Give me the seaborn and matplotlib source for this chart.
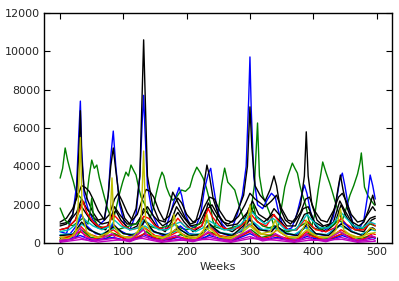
import matplotlib
matplotlib.use("Agg")
import matplotlib.pyplot as plt
import seaborn as sns
import pandas as pd

# ---- data (week, value) ----
wk_G1 = [0,4,8,12,17,21,25,29,33,38,42,46,50,54,58,62,66,70,75,79,84,89,94,99,104,108,112,116,120,124,128,132,137,142,147,152,157,161,164,168,173,178,184,188,192,198,205,210,216,221,226,231,237,241,245,250,255,260,265,270,276,280,284,290,296,302,307,312,315,320,326,332,338,343,348,352,355,360,367,371,375,379,382,388,393,398,403,408,412,415,420,426,430,434,440,446,452,458,464,470,474,476,478,481,486,492,497]
G1 = [3390,3900,4960,4300,3650,3200,2660,2500,2350,2000,2400,3500,4330,3900,4070,3400,2900,2400,1800,1460,1200,1900,2600,3200,3700,3500,4070,3800,3550,2900,2400,2140,1800,1300,1800,2600,3300,3700,3500,2920,2500,2240,2400,2600,2770,2700,2920,3500,3960,3700,3390,2900,2140,1200,900,1600,3000,3910,3180,3000,2770,2300,1830,1300,1000,1800,3000,6260,3500,2500,2000,1500,900,700,1500,2300,2920,3500,4170,3900,3650,3000,2610,2000,1200,900,1600,2800,3600,4230,3700,3130,2700,2240,1600,1200,1800,2500,3000,3600,4200,4700,4000,2920,2500,2200,1980]

wk_B1 = [0,10,20,26,30,32,34,38,44,52,60,70,76,80,84,88,94,102,110,120,126,130,132,134,138,146,156,166,174,180,186,188,192,198,206,214,222,228,234,238,242,248,256,264,272,280,288,294,298,300,302,306,312,320,328,334,340,344,350,358,366,374,380,386,390,396,404,414,424,432,438,442,446,450,456,464,472,480,486,490,494,498]
B1 = [600,500,1500,3000,6000,7400,5000,2500,1800,1200,900,1200,2500,4500,5840,4000,2000,1000,700,1500,3500,6500,7700,6000,3000,1500,800,700,1500,2200,2700,2900,2500,1500,900,800,1500,2800,3600,3900,3000,1800,1000,700,800,1500,2500,4000,7500,9700,7000,3500,2000,1800,2300,2600,2400,1800,1100,700,800,1500,2300,3030,2600,1600,900,600,800,1400,2500,3300,3650,3000,1800,900,700,1200,2500,3550,3000,2300]

wk_K1 = [0,10,20,26,30,32,34,38,44,52,60,70,76,80,84,88,94,102,110,120,126,129,132,135,138,146,156,166,172,178,182,188,198,206,214,222,228,232,236,242,250,258,266,274,282,290,296,300,303,308,316,324,332,338,342,348,356,364,372,380,386,389,392,398,406,416,426,434,440,443,447,454,462,472,480,488,494,498]
K1 = [900,1000,1500,2500,5000,6900,4500,2800,2200,1600,1200,1300,2500,4000,4960,3800,2200,1300,1000,1800,3500,7000,10590,7000,3500,2000,1200,1100,1800,2660,2400,2000,1300,1000,1100,2000,3200,4070,3500,2300,1500,1100,1000,1200,1800,2500,4000,7100,5000,3000,2500,2200,2800,3500,3000,1800,1200,1000,1300,2000,3500,5800,3500,2000,1200,900,1000,1800,3000,3550,2800,1800,1100,900,1100,1800,2500,2000]

wk_K2 = [0,10,20,28,34,40,46,52,60,70,78,86,92,98,106,114,122,130,136,142,148,156,164,172,180,186,192,200,210,220,228,236,244,252,262,272,282,292,300,308,316,324,334,342,350,360,370,380,388,394,402,412,422,432,440,446,452,460,470,480,488,494,498]
K2 = [1100,1300,1800,2500,3000,2900,2700,2300,1700,1200,1500,2300,2600,2200,1600,1200,1500,2300,2800,2700,2400,1700,1200,1400,2000,2350,2100,1500,1100,1300,1900,2400,2300,1700,1200,1100,1400,2000,2600,2300,2100,1900,2200,2500,1800,1200,1100,1600,2300,2400,1700,1200,1100,1700,2400,2600,2200,1500,1100,1200,1600,1900,1700]

wk_K3 = [0,12,24,32,38,48,60,72,82,88,96,110,122,132,140,152,166,178,186,196,210,224,234,244,258,272,288,300,310,322,336,346,360,374,386,394,404,420,434,444,452,466,480,492,498]
K3 = [700,800,1200,2000,1700,1200,800,700,1400,1700,1200,700,900,1800,1500,900,600,1200,1600,1100,600,900,2100,1500,800,600,1000,1900,1400,1100,1500,1200,700,700,1500,1600,900,600,1000,2000,1400,700,600,1200,1300]

wk_K4 = [0,14,26,34,42,54,66,78,86,94,106,120,130,138,148,162,176,184,194,206,220,230,240,250,264,280,296,304,314,328,338,346,358,372,384,392,402,418,432,442,450,464,478,490,498]
K4 = [1000,1100,1600,2300,1800,1300,1000,1100,1900,1500,1000,1000,1500,1900,1400,900,1200,1900,1400,900,1000,1700,2000,1400,900,1000,1600,2200,1500,1200,1800,1500,900,900,1800,1900,1100,800,1100,2200,1700,900,800,1300,1400]

wk_G2 = [0,4,8,14,20,28,36,44,48,50,53,60,70,80,90,100,110,120,130,140,150,160,170,180,190,200,210,220,230,240,250,260,270,280,290,300,306,310,320,330,340,350,360,370,380,390,400,410,420,430,440,450,460,470,480,490,498]
G2 = [1830,1500,1200,1000,900,1100,1300,1000,1800,2350,1300,900,800,900,700,800,900,1000,1300,900,800,800,900,1000,800,700,800,1000,1200,900,800,700,800,900,1000,1300,2000,1200,900,800,900,700,600,700,900,1100,800,700,800,900,1200,1000,800,700,800,1000,900]

wk_R1 = [0,12,24,32,36,42,52,64,76,84,90,100,112,124,132,140,150,164,178,186,196,210,224,234,240,252,266,282,296,302,312,326,338,346,360,374,386,392,404,420,434,444,452,466,480,490,498]
R1 = [700,800,1200,1800,2200,1600,1100,800,900,1500,1300,900,700,800,1400,1300,900,700,900,1300,900,700,900,1800,1400,900,700,800,1200,1500,1100,900,1500,1100,700,700,1200,1100,700,600,800,1300,1000,700,700,1100,900]

wk_C1 = [0,14,26,32,40,52,66,80,86,96,110,124,132,142,156,170,182,190,200,214,226,234,244,258,272,286,296,304,312,324,336,344,356,372,384,390,398,410,424,436,444,452,464,478,490,498]
C1 = [600,700,1000,1500,1200,900,700,900,1200,900,700,800,1200,1000,700,700,1000,1100,800,600,800,1200,1000,700,700,1000,1400,1600,1300,1000,1300,1100,700,700,1200,1500,1200,800,800,1200,1600,1300,900,800,1100,1000]

wk_B2 = [0,16,28,34,42,56,72,84,92,110,126,134,144,162,180,190,204,222,236,248,266,286,300,312,330,342,356,372,388,400,420,440,448,462,478,492,498]
B2 = [400,500,1000,1500,900,500,400,1000,700,400,600,1200,700,400,600,900,500,400,1000,600,400,600,1300,800,600,900,500,400,900,500,400,900,1100,600,400,800,700]

wk_R2 = [0,20,32,44,62,84,98,118,134,150,168,186,204,222,236,252,270,300,316,334,342,360,378,390,408,426,444,462,482,494,498]
R2 = [300,350,900,500,300,700,350,300,800,400,300,600,300,300,900,400,300,1000,500,400,700,300,300,600,300,300,700,350,300,500,450]

wk_C2 = [0,22,34,46,64,86,100,120,134,150,170,188,206,224,238,254,274,298,306,320,338,350,370,388,404,422,442,456,474,492,498]
C2 = [450,500,1000,700,450,800,500,450,900,550,450,700,450,500,900,550,450,900,1100,700,800,600,450,800,500,450,900,700,450,700,650]

wk_K5 = [0,20,34,46,66,86,100,120,134,148,170,186,204,222,236,252,272,300,314,334,342,358,376,390,404,424,444,460,478,494,498]
K5 = [400,450,1100,700,400,900,500,400,1200,600,400,800,400,450,1000,550,400,1200,700,600,900,500,400,1000,500,400,1000,600,400,800,700]

wk_Y2 = [0,18,30,40,58,80,94,114,130,144,164,182,196,216,230,244,262,282,300,314,330,344,358,376,390,404,424,440,454,472,488,498]
Y2 = [300,350,800,500,300,600,350,300,900,400,300,700,400,300,800,450,300,400,900,500,400,700,350,300,700,350,300,600,500,300,500,550]

wk_G3 = [0,24,34,48,70,86,104,124,136,152,176,190,210,228,240,258,278,302,318,338,352,376,392,410,430,446,466,490,498]
G3 = [200,250,700,300,200,500,200,250,600,250,200,450,200,250,550,250,200,700,300,450,250,200,500,200,250,500,200,350,300]

wk_B3 = [0,32,50,84,110,132,160,186,210,236,270,300,320,342,370,390,420,446,470,494,498]
B3 = [100,400,150,300,100,450,120,300,100,400,100,500,180,300,100,350,100,400,120,300,250]

wk_R3 = [0,32,50,84,110,134,160,186,210,236,270,300,320,342,370,390,420,446,470,494,498]
R3 = [150,600,200,450,150,500,150,350,150,550,150,600,250,400,150,450,150,500,150,350,300]

wk_Y1 = [0,14,24,28,32,35,42,56,70,78,82,85,96,110,122,128,132,135,146,162,174,180,184,198,214,226,232,236,252,270,288,296,300,304,318,332,340,346,362,376,386,389,394,410,426,436,443,448,464,478,490,498]
Y1 = [200,250,500,1500,5500,1500,600,300,300,600,3400,900,400,250,400,1200,4800,1200,400,250,400,1500,800,300,250,500,1500,800,300,250,500,1200,2000,900,500,600,1200,600,300,300,900,1200,600,300,300,700,1800,700,300,300,800,700]

wk_M1 = [0,20,32,40,60,82,90,110,132,140,160,182,200,220,234,250,270,300,310,330,340,360,380,389,400,420,443,460,480,492,498]
M1 = [150,200,800,300,150,500,200,150,700,250,150,400,150,200,600,200,150,700,300,200,500,150,200,500,150,150,600,200,150,400,300]

wk_M2 = [0,30,50,84,110,132,160,186,210,236,270,300,320,342,370,390,420,444,470,494,498]
M2 = [80,300,100,250,80,350,80,200,80,300,80,350,120,250,80,250,80,300,80,200,150]

wk_M3 = [0,34,60,86,130,160,188,236,270,302,342,370,392,446,470,498]
M3 = [50,200,60,150,250,50,150,200,50,250,150,50,150,200,50,100]

series = [
    ("G1", wk_G1, G1, (0, 0.5, 0)),
    ("B1", wk_B1, B1, (0, 0, 1)),
    ("K2", wk_K2, K2, (0, 0, 0)),
    ("K3", wk_K3, K3, (0, 0, 0)),
    ("K4", wk_K4, K4, (0, 0, 0)),
    ("K1", wk_K1, K1, (0, 0, 0)),
    ("G2", wk_G2, G2, (0, 0.5, 0)),
    ("R1", wk_R1, R1, (1, 0, 0)),
    ("C1", wk_C1, C1, (0, 0.75, 0.75)),
    ("B2", wk_B2, B2, (0, 0, 1)),
    ("R2", wk_R2, R2, (1, 0, 0)),
    ("C2", wk_C2, C2, (0, 0.75, 0.75)),
    ("K5", wk_K5, K5, (0, 0, 0)),
    ("Y2", wk_Y2, Y2, (0.75, 0.75, 0)),
    ("G3", wk_G3, G3, (0, 0.5, 0)),
    ("B3", wk_B3, B3, (0, 0, 1)),
    ("R3", wk_R3, R3, (1, 0, 0)),
    ("Y1", wk_Y1, Y1, (0.75, 0.75, 0)),
    ("M1", wk_M1, M1, (0.75, 0, 0.75)),
    ("M2", wk_M2, M2, (0.75, 0, 0.75)),
    ("M3", wk_M3, M3, (0.75, 0, 0.75)),
]

frames = []
for name, w, v, _ in series:
    frames.append(pd.DataFrame({"week": w, "value": v, "series": name}))
df = pd.concat(frames, ignore_index=True)
palette = {name: c for name, _, _, c in series}
order = [name for name, _, _, _ in series]

sns.set_style("ticks", {"xtick.direction": "in", "ytick.direction": "in"})
plt.rcParams["font.family"] = ["DejaVu Sans"]

fig = plt.figure(figsize=(3.99, 2.81), dpi=100)
ax = fig.add_axes([0.111, 0.1345, 0.8707, 0.82])
sns.lineplot(data=df, x="week", y="value", hue="series", hue_order=order,
             palette=palette, estimator=None, sort=False, legend=False,
             linewidth=1.0, ax=ax)

ax.set_xlim(-25, 524)
ax.set_ylim(0, 12000)
ax.set_xticks([0, 100, 200, 300, 400, 500])
ax.set_yticks([0, 2000, 4000, 6000, 8000, 10000, 12000])
ax.tick_params(axis="both", which="both", direction="in", top=True, right=True,
               length=4, width=0.8, labelsize=8, pad=3, color="black")
for s in ax.spines.values():
    s.set_visible(True)
    s.set_color("black")
    s.set_linewidth(1.0)
ax.set_xlabel("Weeks", fontsize=8, labelpad=3)
ax.set_ylabel("")

fig.savefig("out.png", dpi=100)
